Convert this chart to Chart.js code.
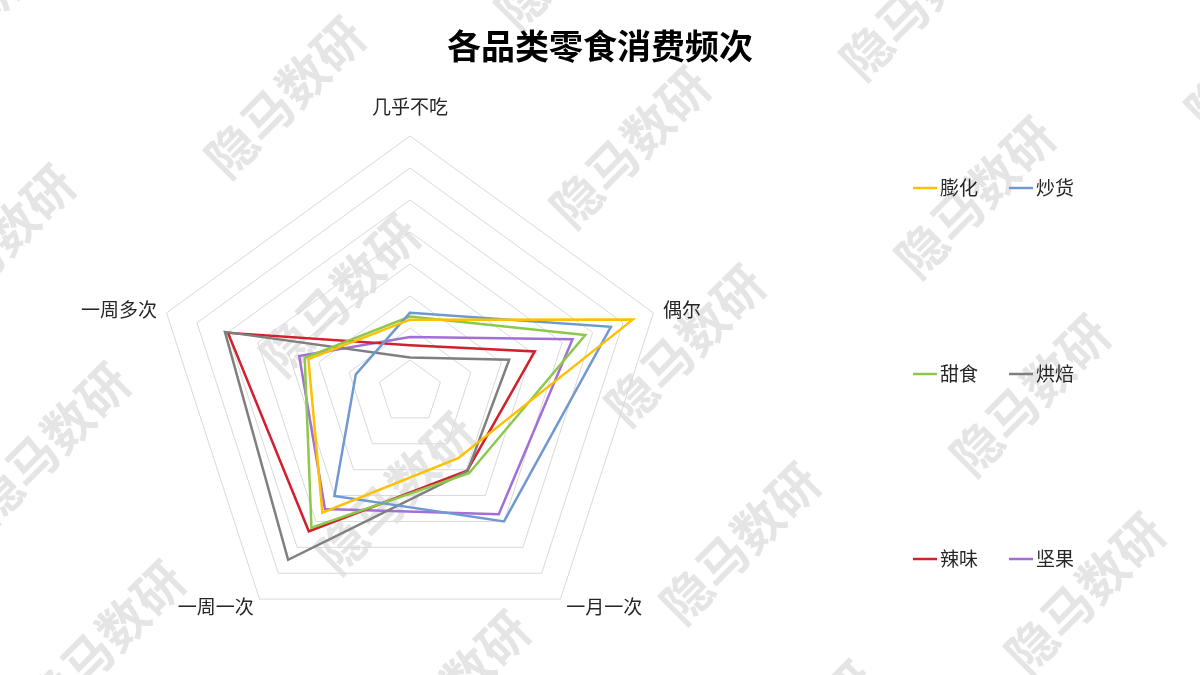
<!DOCTYPE html>
<html>
<head>
<meta charset="utf-8">
<script src="https://cdn.jsdelivr.net/npm/chart.js@4/dist/chart.umd.min.js"></script>
<style>
  html, body { margin: 0; padding: 0; background: #ffffff; }
  #wrap { position: relative; width: 1200px; height: 675px; }
</style>
</head>
<body>
<div id="wrap"><canvas id="c"></canvas></div>
<script>
// ---- data (share of respondents, %) ----
const categories = ['几乎不吃', '偶尔', '一月一次', '一周一次', '一周多次'];
const seriesNames = ['膨化', '炒货', '甜食', '烘焙', '辣味', '坚果'];
const puffed = [11.3, 36.6, 12.8, 23.3, 16.7];
const roasted = [12.4, 33.0, 25.0, 20.1, 8.9];
const sweets = [11.8, 28.8, 15.7, 26.2, 17.3];
const baked = [5.4, 16.3, 15.3, 32.4, 30.4];
const spicy = [7.3, 20.5, 15.2, 26.9, 29.9];
const nuts = [8.6, 26.7, 23.6, 22.6, 18.2];
const scaleMin = 0;
const scaleMax = 40;
const scaleStep = 5;
const titleText = '各品类零食消费频次';
const watermarkText = '隐马数研';

const seriesValues = [puffed, roasted, sweets, baked, spicy, nuts];
const seriesColors = ['#FFC000', '#7199D1', '#8CC84B', '#7F7F7F', '#D2202C', '#A26FD6'];

const CJK = '"Noto Sans CJK SC", "Noto Sans", sans-serif';

const watermarkPlugin = {
  id: 'watermark',
  beforeDraw(chart) {
    const ctx = chart.ctx;
    ctx.save();
    ctx.fillStyle = 'rgba(0,0,0,0.10)';
    ctx.font = 'bold 50px ' + CJK;
    ctx.textAlign = 'center';
    ctx.textBaseline = 'middle';
    const p0 = {x: 285, y: 97}, a = {x: 345, y: 50}, b = {x: 55, y: 198};
    for (let i = -3; i <= 4; i++) {
      for (let j = -2; j <= 4; j++) {
        const x = p0.x + i * a.x + j * b.x;
        const y = p0.y + i * a.y + j * b.y;
        if (x < -160 || x > 1360 || y < -160 || y > 835) continue;
        ctx.save();
        ctx.translate(x, y);
        ctx.rotate(-Math.PI / 4);
        ctx.fillText(watermarkText, 0, 0);
        ctx.restore();
      }
    }
    ctx.restore();
  }
};

const titlePlugin = {
  id: 'customTitle',
  afterDraw(chart) {
    const ctx = chart.ctx;
    ctx.save();
    ctx.fillStyle = '#000000';
    ctx.font = 'bold 34px ' + CJK;
    ctx.textAlign = 'center';
    ctx.textBaseline = 'middle';
    ctx.fillText(titleText, 600, 46);
    ctx.restore();
  }
};

const pointLabelPlugin = {
  id: 'excelPointLabels',
  afterDraw(chart) {
    const scale = chart.scales.r;
    const ctx = chart.ctx;
    ctx.save();
    ctx.fillStyle = '#262626';
    ctx.font = '19px ' + CJK;
    chart.data.labels.forEach((lab, i) => {
      const isTop = i === 0;
      const p = scale.getPointPosition(i, scale.drawingArea + (isTop ? 29 : 10));
      const dx = p.x - scale.xCenter;
      ctx.textAlign = Math.abs(dx) < 1 ? 'center' : (dx > 0 ? 'left' : 'right');
      ctx.textBaseline = 'middle';
      ctx.fillText(lab, p.x, p.y);
    });
    ctx.restore();
  }
};

const legendPlugin = {
  id: 'excelLegend',
  afterDraw(chart) {
    const ctx = chart.ctx;
    const colX = [913, 1009];
    const rowY = [188, 374, 559];
    ctx.save();
    ctx.font = '19px ' + CJK;
    ctx.textBaseline = 'middle';
    ctx.textAlign = 'left';
    chart.data.datasets.forEach((ds, i) => {
      const x = colX[i % 2];
      const y = rowY[Math.floor(i / 2)];
      ctx.strokeStyle = ds.borderColor;
      ctx.lineWidth = 2.5;
      ctx.beginPath();
      ctx.moveTo(x, y);
      ctx.lineTo(x + 24, y);
      ctx.stroke();
      ctx.fillStyle = '#262626';
      ctx.fillText(ds.label, x + 27, y);
    });
    ctx.restore();
  }
};

new Chart(document.getElementById('c'), {
  type: 'radar',
  data: {
    labels: categories,
    datasets: seriesNames.map((name, i) => ({
      label: name,
      data: seriesValues[i],
      borderColor: seriesColors[i],
      backgroundColor: 'transparent',
      borderWidth: 2.5,
      fill: false,
      pointRadius: 0,
      pointHoverRadius: 0,
      tension: 0
    }))
  },
  options: {
    responsive: true,
    maintainAspectRatio: false,
    animation: false,
    devicePixelRatio: 1,
    layout: { padding: { left: 154, right: 534, top: 136, bottom: 27 } },
    plugins: {
      legend: { display: false },
      title: { display: false },
      tooltip: { enabled: false }
    },
    scales: {
      r: {
        min: scaleMin,
        max: scaleMax,
        ticks: { display: false, stepSize: scaleStep },
        grid: { color: '#D9D9D9', lineWidth: 1 },
        angleLines: { display: false },
        pointLabels: { display: false }
      }
    }
  },
  plugins: [watermarkPlugin, titlePlugin, pointLabelPlugin, legendPlugin]
});
</script>
</body>
</html>
